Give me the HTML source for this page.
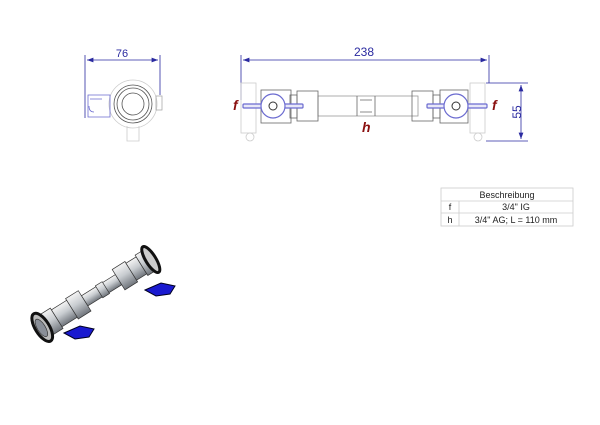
<!DOCTYPE html>
<html><head><style>
html,body{margin:0;padding:0;background:#fff;}
svg{display:block;font-family:"Liberation Sans",sans-serif;}
</style></head><body>
<svg width="600" height="425" viewBox="0 0 600 425" xmlns="http://www.w3.org/2000/svg">
<defs>
<marker id="a" markerWidth="8" markerHeight="6" refX="8" refY="3" orient="auto-start-reverse"><path d="M0,0 L8,3 L0,6 z" fill="#2a2aa0"/></marker>
<linearGradient id="pipe" x1="0" y1="0" x2="0" y2="1"><stop offset="0" stop-color="#f4f4f4"/><stop offset=".45" stop-color="#c8ccd0"/><stop offset="1" stop-color="#70757c"/></linearGradient>
</defs>
<!-- front view -->
<g stroke="#2a2aa0" stroke-width="0.8" fill="none">
<line x1="85" y1="55" x2="85" y2="118"/><line x1="160" y1="55" x2="160" y2="95"/>
<line x1="87" y1="60" x2="158" y2="60" marker-start="url(#a)" marker-end="url(#a)"/>
</g>
<text x="122" y="57" font-size="11" fill="#2a2aa0" text-anchor="middle">76</text>
<g fill="none" stroke="#555" stroke-width="0.8">
<circle cx="133" cy="104" r="24" stroke="#ccc"/>
<circle cx="133" cy="104" r="19"/><circle cx="133" cy="104" r="16"/><circle cx="133" cy="104" r="11"/>
<rect x="156" y="96" width="6" height="14" stroke="#aaa"/>
<path d="M127 126 v15 h12 v-15" stroke="#ccc"/>
<path d="M88 95 h22 v22 h-22 z M90 99 h12 M94 112 q-5 0 -5 -6" stroke="#6b6bd0"/>
</g>
<!-- side view -->
<g stroke="#2a2aa0" stroke-width="0.8" fill="none">
<line x1="241" y1="55" x2="241" y2="100"/><line x1="489" y1="55" x2="489" y2="83"/>
<line x1="243" y1="60" x2="487" y2="60" marker-start="url(#a)" marker-end="url(#a)"/>
<line x1="486" y1="83" x2="528" y2="83"/><line x1="486" y1="141" x2="528" y2="141"/>
<line x1="521" y1="85" x2="521" y2="139" marker-start="url(#a)" marker-end="url(#a)"/>
</g>
<text x="364" y="56" font-size="12" fill="#2a2aa0" text-anchor="middle">238</text>
<text transform="translate(521,112) rotate(-90)" font-size="12" fill="#2a2aa0" text-anchor="middle">55</text>
<g fill="none" stroke="#666" stroke-width="0.8">
<rect x="318" y="96" width="100" height="20" stroke="#999"/>
<path d="M357 96 v20 M375 96 v20 M360 100 h12 M360 112 h12"/>
<rect x="241" y="83" width="15" height="50" stroke="#ccc"/><circle cx="250" cy="137" r="4" stroke="#ccc"/>
<rect x="470" y="83" width="15" height="50" stroke="#ccc"/><circle cx="478" cy="137" r="4" stroke="#ccc"/>
<rect x="261" y="90" width="30" height="33"/><rect x="290" y="95" width="7" height="23"/><rect x="297" y="91" width="21" height="30"/>
<rect x="440" y="90" width="28" height="33"/><rect x="433" y="95" width="7" height="23"/><rect x="412" y="91" width="21" height="30"/>
</g>
<g stroke="#6b6bd0" stroke-width="1.2" fill="#e8e8f8">
<rect x="243" y="104" width="60" height="4" rx="1"/>
<rect x="427" y="104" width="60" height="4" rx="1"/>
<circle cx="273" cy="106" r="12" fill="#fff"/><circle cx="456" cy="106" r="12" fill="#fff"/>
</g>
<circle cx="273" cy="106" r="4" fill="none" stroke="#333"/><circle cx="456" cy="106" r="4" fill="none" stroke="#333"/>
<g fill="#8b1010" font-weight="bold" font-style="italic" font-size="14">
<text x="233" y="110">f</text><text x="492" y="110">f</text><text x="362" y="132">h</text>
</g>
<!-- table -->
<g stroke="#ccc" stroke-width="0.8" fill="none">
<rect x="441" y="188" width="132" height="38"/>
<line x1="441" y1="201" x2="573" y2="201"/><line x1="441" y1="213" x2="573" y2="213"/>
<line x1="459" y1="201" x2="459" y2="226"/>
</g>
<g font-size="9" fill="#222" text-anchor="middle">
<text x="507" y="198">Beschreibung</text>
<text x="450" y="210">f</text><text x="516" y="210">3/4" IG</text>
<text x="450" y="223">h</text><text x="516" y="223">3/4" AG; L = 110 mm</text>
</g>
<!-- 3D view -->
<g transform="translate(38,330) rotate(-32)" stroke="#333" stroke-width="0.7">
<rect x="55" y="-6" width="40" height="12" fill="url(#pipe)"/>
<rect x="72" y="-7" width="8" height="14" fill="url(#pipe)"/>
<rect x="95" y="-12" width="15" height="24" fill="url(#pipe)"/>
<rect x="110" y="-10" width="12" height="20" fill="url(#pipe)"/>
<rect x="122" y="-12" width="8" height="24" fill="url(#pipe)"/>
<rect x="40" y="-12" width="15" height="24" fill="url(#pipe)"/>
<rect x="22" y="-10" width="18" height="20" fill="url(#pipe)"/>
<rect x="8" y="-12" width="14" height="24" fill="url(#pipe)"/>
<ellipse cx="133" cy="0" rx="5" ry="15" fill="#ccc" stroke="#111" stroke-width="3"/>
<ellipse cx="5" cy="0" rx="7" ry="16" fill="#bbb" stroke="#111" stroke-width="3"/>
<ellipse cx="4" cy="0" rx="4" ry="10" fill="#8a8f98"/>
</g>
<path d="M64 333 l16 -7 l14 3 l-5 8 l-14 2 z" fill="#1a1ad0" stroke="#002"/>
<path d="M145 290 l16 -7 l14 3 l-5 8 l-14 2 z" fill="#1a1ad0" stroke="#002"/>
</svg>
</body></html>
